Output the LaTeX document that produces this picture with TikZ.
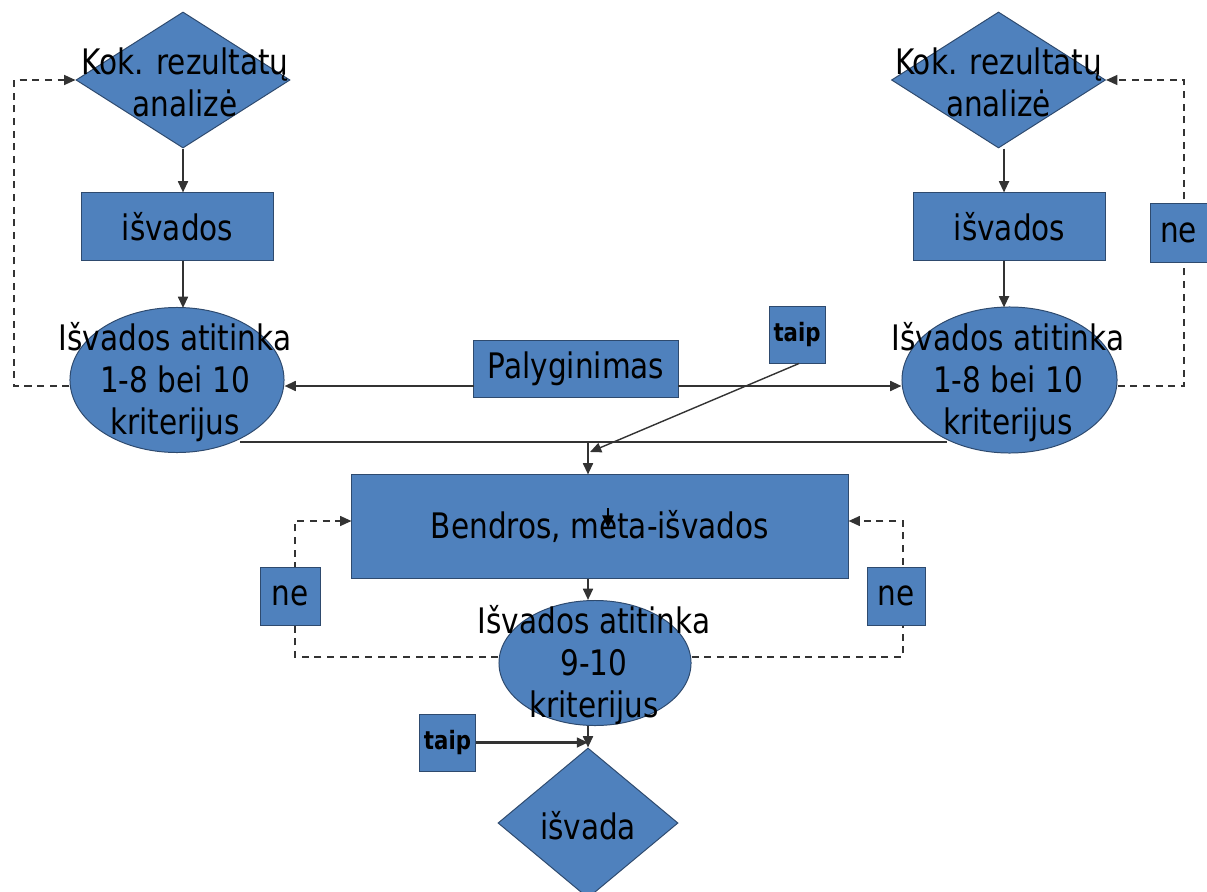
\documentclass[tikz,border=0pt]{standalone}
\usepackage{fontspec}
\setmainfont{DejaVu Sans}[FakeStretch=0.84]
\usetikzlibrary{shapes.geometric,arrows.meta,calc}
\definecolor{boxfill}{HTML}{4F81BD}
\definecolor{boxline}{HTML}{2E4A6E}
\definecolor{conn}{HTML}{333333}
\begin{document}
\begin{tikzpicture}[x=0.025cm,y=-0.025cm,
  shp/.style={fill=boxfill,draw=boxline,line width=0.7pt,inner sep=0pt},
  rbox/.style={shp,rectangle,font=\fontsize{25}{30}\selectfont},
  dia/.style={shp,diamond},
  ell/.style={shp,ellipse},
  txt/.style={align=center,inner sep=0pt,font=\fontsize{25}{30}\selectfont},
  tbox/.style={shp,rectangle,minimum width=1.4cm,minimum height=1.425cm,font=\bfseries\fontsize{18}{21}\selectfont},
  nbox/.style={shp,rectangle,minimum width=1.45cm,minimum height=1.45cm,font=\fontsize{25}{30}\selectfont},
  arr/.style={draw=conn,line width=1.5pt,-{Triangle[length=8pt,width=7pt]}},
  ln/.style={draw=conn,line width=1.5pt},
  dsh/.style={draw=conn,line width=1.1pt,dash pattern=on 5pt off 4pt,-{Triangle[length=8pt,width=7pt]}}]
\useasboundingbox (0,0) rectangle (1207,892);

% left column
\node[dia,minimum width=5.35cm,minimum height=3.4cm] (d1) at (183,80) {};
\node[txt] (d1t) at (185,82) {Kok. rezultatų\\analizė};
\node[rbox,minimum width=4.775cm,minimum height=1.675cm] (r1) at (177.5,226.5) {išvados};
\node[ell,minimum width=5.35cm,minimum height=3.625cm] (e1) at (177,380) {};
\node[txt] (e1t) at (175,382) {Išvados atitinka\\1-8 bei 10\\kriterijus};

% right column
\node[dia,minimum width=5.35cm,minimum height=3.4cm] (d2) at (998.5,80) {};
\node[txt] (d2t) at (998.5,82) {Kok. rezultatų\\analizė};
\node[rbox,minimum width=4.8cm,minimum height=1.675cm] (r2) at (1009.5,226.5) {išvados};
\node[ell,minimum width=5.375cm,minimum height=3.65cm] (e2) at (1009.5,380) {};
\node[txt] (e2t) at (1008,382) {Išvados atitinka\\1-8 bei 10\\kriterijus};

% middle
\node[rbox,minimum width=5.1cm,minimum height=1.425cm] (pal) at (576,368.5) {Palyginimas};
\node[rbox,minimum width=12.4cm,minimum height=2.575cm] (bend) at (600,526.5) {Bendros, meta-išvados};
\node[ell,minimum width=4.8cm,minimum height=3.125cm] (e3) at (595,663) {};
\node[txt] (e3t) at (594,665) {Išvados atitinka\\9-10\\kriterijus};
\node[dia,minimum width=4.5cm,minimum height=3.75cm] (d3) at (588,823) {};
\node[txt] (d3t) at (588,826) {išvada};

% coordinates
\coordinate (pL) at (474,386);
\coordinate (pR) at (678,386);
\coordinate (hL) at (240,442);
\coordinate (hR) at (947,442);
\coordinate (hM) at (588,442);
\coordinate (tEnd) at (590,452);
\coordinate (sa) at (608,508);
\coordinate (lx) at (14,0);
\coordinate (rx) at (1184,0);
\coordinate (blx) at (295,0);
\coordinate (brx) at (903,0);

% solid connectors
\draw[arr] (d1.south) -- (d1.south |- r1.north);
\draw[arr] (d1.south |- r1.south) -- ($(d1.south |- e1.north)+(0,1)$);
\draw[arr] (d2.south -| 1004,0) -- (1004,0 |- r2.north);
\draw[arr] (1004,0 |- r2.south) -- ($(1004,0 |- e2.north)+(0,1)$);
\draw[arr] (pL) -- (pL -| e1.east);
\draw[arr] (pR) -- (pR -| e2.west);
\draw[ln] (hL) -- (hR);
\draw[arr] (hM) -- (hM |- bend.north);
\draw[draw=black,line width=1.3pt,-{Triangle[length=9pt,width=8pt]}] (sa) -- ++(0,20);
\draw[arr] (bend.south -| hM) -- (hM |- e3.north);
\draw[arr] (e3.south -| d3.north) -- (d3.north);

% dashed loops
\draw[dsh] (e1.west |- 0,386) -- (lx |- 0,386) -- (lx |- d1.west) -- (d1.west);
\draw[dsh] (e2.east |- 0,386) -- (rx |- 0,386) -- (rx |- d2.east) -- (d2.east);
\draw[dsh] (e3.west |- 0,657) -- (blx |- 0,657) -- (blx |- 0,521) -- (bend.west |- 0,521);
\draw[dsh] (e3.east |- 0,657) -- (brx |- 0,657) -- (brx |- 0,521) -- (bend.east |- 0,521);

% label boxes
\node[nbox,minimum width=1.425cm] (ne1) at (1178.5,233) {ne};
\node[nbox,minimum width=1.5cm] (ne2) at (290,596) {ne};
\node[nbox] (ne3) at (896,596) {ne};
\node[tbox] (taip1) at (797,334.5) {taip};
\node[tbox] (taip2) at (447.5,742.5) {taip};

\draw[draw=conn,line width=1pt,-{Triangle[length=8pt,width=7pt]}] ($(taip1.south)+(2,0)$) -- (tEnd);
\draw[arr] (taip2.east) -- (taip2.east -| d3.north);
\end{tikzpicture}
\end{document}
